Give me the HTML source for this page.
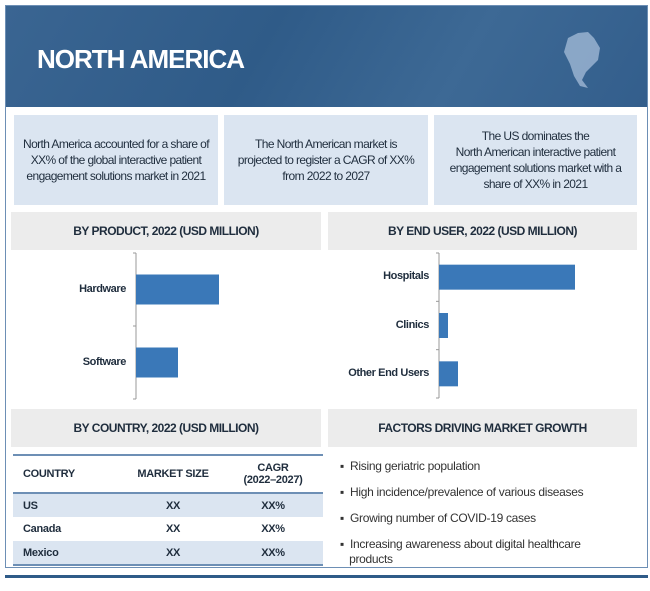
<!DOCTYPE html>
<html><head><meta charset="utf-8"><style>
*{margin:0;padding:0;box-sizing:border-box}
body{width:650px;height:591px;background:#fff;font-family:"Liberation Sans",sans-serif;position:relative;overflow:hidden;color:#1f2d3d}
.abs{position:absolute}
.box{position:absolute;background:#dbe5f1;display:flex;align-items:center;justify-content:center;text-align:center;font-size:12px;line-height:16px;letter-spacing:-0.6px;color:#1f2d3d;white-space:nowrap}
.hd{position:absolute;background:#ececec;display:flex;align-items:center;justify-content:center;font-size:12px;font-weight:bold;letter-spacing:-0.5px;color:#1f2d3d}
.lbl{position:absolute;font-size:11px;font-weight:bold;letter-spacing:-0.4px;text-align:right;color:#1f2d3d}
table{border-collapse:collapse;font-size:11px;letter-spacing:-0.3px}
li{list-style:none;position:absolute;font-size:12px;color:#333;letter-spacing:-0.3px}
</style></head><body>
<div class="abs" style="left:5px;top:5px;width:643px;height:563px;border:1px solid #6d8fb5"></div>
<div class="abs" style="left:6px;top:6px;width:641px;height:101px;background:linear-gradient(120deg,#3a6592 0%,#2f5b88 40%,#3d6995 70%,#335e8c 100%)">
<div class="abs" style="left:31px;top:38px;color:#fff;font-size:26px;font-weight:bold;letter-spacing:-1px">NORTH AMERICA</div>
<svg class="abs" style="left:552px;top:22px" width="50" height="65"><path d="M10 10 L20 5 L30 4 L36 10 L42 20 L40 32 L34 38 L28 44 L24 52 L30 60 L22 58 L16 48 L12 36 L6 24 Z" fill="#9fb8d4" opacity="0.8"/></svg>
</div>
<div class="box" style="left:14px;top:115px;width:204px;height:90px">North America accounted for a share of<br>XX% of the global interactive patient<br>engagement solutions market in 2021</div>
<div class="box" style="left:224px;top:115px;width:204px;height:90px">The North American market is<br>projected to register a CAGR of XX%<br>from 2022 to 2027</div>
<div class="box" style="left:434px;top:115px;width:203px;height:90px">The US dominates the<br>North American interactive patient<br>engagement solutions market with a<br>share of XX% in 2021</div>
<div class="hd" style="left:11px;top:212px;width:310px;height:38px">BY PRODUCT, 2022 (USD MILLION)</div>
<div class="hd" style="left:328px;top:212px;width:309px;height:38px">BY END USER, 2022 (USD MILLION)</div>
<svg class="abs" id="charts" style="left:0;top:0" width="650" height="591"></svg>
<div id="labels"></div>
<div class="hd" style="left:11px;top:409px;width:310px;height:38px">BY COUNTRY, 2022 (USD MILLION)</div>
<div class="hd" style="left:328px;top:409px;width:309px;height:38px">FACTORS DRIVING MARKET GROWTH</div>
<table class="abs" style="left:13px;top:454px;width:310px;border-top:2px solid #6d8fb5;border-bottom:2px solid #6d8fb5">
<tr style="height:38px;border-bottom:2px solid #6d8fb5;font-weight:bold"><td style="padding-left:10px;width:110px">COUNTRY</td><td style="text-align:center;width:100px">MARKET SIZE</td><td style="text-align:center">CAGR<br>(2022–2027)</td></tr>
<tr style="height:24px;background:#dbe5f1;font-weight:bold"><td style="padding-left:10px">US</td><td style="text-align:center">XX</td><td style="text-align:center">XX%</td></tr>
<tr style="height:24px;font-weight:bold"><td style="padding-left:10px">Canada</td><td style="text-align:center">XX</td><td style="text-align:center">XX%</td></tr>
<tr style="height:24px;background:#dbe5f1;font-weight:bold"><td style="padding-left:10px">Mexico</td><td style="text-align:center">XX</td><td style="text-align:center">XX%</td></tr>
</table>
<ul>
<li style="left:340px;top:459px">▪&nbsp; Rising geriatric population</li>
<li style="left:340px;top:485px">▪&nbsp; High incidence/prevalence of various diseases</li>
<li style="left:340px;top:511px">▪&nbsp; Growing number of COVID-19 cases</li>
<li style="left:340px;top:537px;width:290px;line-height:15px">▪&nbsp; Increasing awareness about digital healthcare<br>&nbsp;&nbsp;&nbsp;products</li>
</ul>
<div class="abs" style="left:5px;top:575px;width:643px;height:3px;background:#2f5b88"></div>
<script>
const productCats=["Hardware","Software"];
const productVals=[83,42];
const userCats=["Hospitals","Clinics","Other End Users"];
const userVals=[136,9,19];
const svg=document.getElementById('charts');
const lab=document.getElementById('labels');
const NS='http://www.w3.org/2000/svg';
function chart(cats,vals,x0,top,bottom,barH,maxPx,maxV,name){
  const band=(bottom-top)/cats.length;
  const ax=document.createElementNS(NS,'line');
  ax.setAttribute('x1',x0);ax.setAttribute('x2',x0);ax.setAttribute('y1',top);ax.setAttribute('y2',bottom);ax.setAttribute('stroke','#999');
  
  
  svg.appendChild(ax);
  for(let i=0;i<=cats.length;i++){
    const t=document.createElementNS(NS,'line');
    const y=top+i*band;
    t.setAttribute('x1',x0-3);t.setAttribute('x2',x0);t.setAttribute('y1',y);t.setAttribute('y2',y);t.setAttribute('stroke','#999');
    
    
    svg.appendChild(t);
  }
  cats.forEach((c,i)=>{
    const cy=top+band*(i+0.5);
    const r=document.createElementNS(NS,'rect');
    r.setAttribute('x',x0);r.setAttribute('y',cy-barH/2);r.setAttribute('width',vals[i]/maxV*maxPx);r.setAttribute('height',barH);r.setAttribute('fill','#3a78b8');
    
    
    svg.appendChild(r);
    const d=document.createElement('div');
    d.className='lbl';d.textContent=c;
    d.style.right=(650-x0+10)+'px';d.style.top=(cy-7)+'px';
    
    
    lab.appendChild(d);
  });
}
chart(productCats,productVals,136,253,399,30,136,136,'product');
chart(userCats,userVals,439,253,398,25,136,136,'end-user');
</script>
</body></html>
